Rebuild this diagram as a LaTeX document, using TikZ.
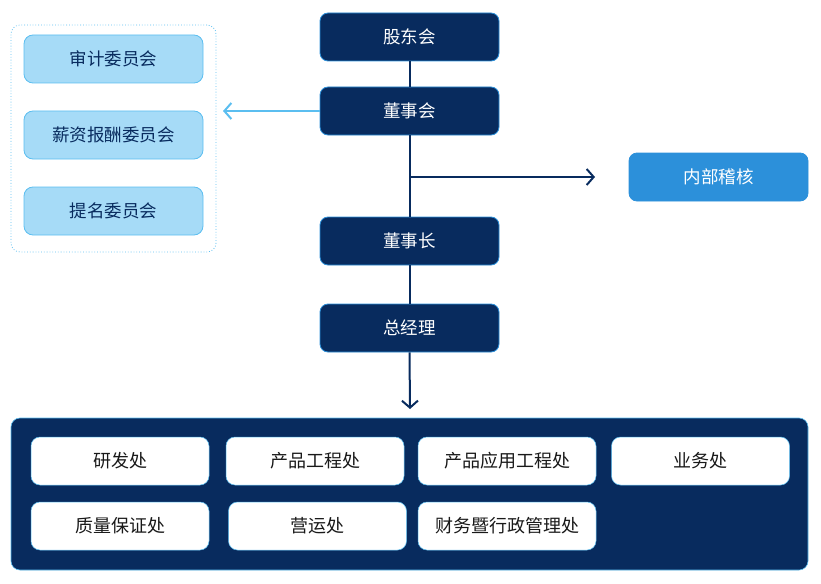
\documentclass[tikz,border=0pt]{standalone}
\usepackage{fontspec}
\setmainfont{Noto Sans CJK SC}
\usetikzlibrary{arrows.meta}
\definecolor{navy}{HTML}{082B5E}
\definecolor{lblue}{HTML}{A6DBF7}
\definecolor{lborder}{HTML}{5BBEF0}
\definecolor{mblue}{HTML}{2C90DA}
\tikzset{
  topbox/.style={draw=mblue, line width=0.8pt, fill=navy, rounded corners=8pt, minimum width=179pt, minimum height=48pt, text=white, font=\fontsize{17.5}{20}\selectfont, inner sep=0pt},
  combox/.style={draw=lborder, line width=0.8pt, fill=lblue, rounded corners=9pt, minimum width=179pt, minimum height=48pt, text=navy, font=\fontsize{17.5}{20}\selectfont, inner sep=0pt},
  depbox/.style={draw=lborder, line width=0.5pt, fill=white, rounded corners=9pt, minimum width=178pt, minimum height=48pt, text=black!90, font=\fontsize{18}{20}\selectfont, inner sep=0pt},
  conn/.style={draw=navy, line width=2pt},
  tip/.style={-{Straight Barb[length=7pt,width=16pt,line width=2pt]}},
}
\begin{document}
\begin{tikzpicture}[x=1pt,y=-1pt]
\useasboundingbox (0,0) rectangle (821,583);
% dotted group
\node[draw=lborder, dotted, line width=0.8pt, rounded corners=9pt, minimum width=205pt, minimum height=227pt, inner sep=0pt] (grp) at (113.5,138.5) {};
% bottom panel
\node[draw=lborder, line width=0.6pt, fill=navy, rounded corners=9pt, minimum width=797pt, minimum height=152pt, inner sep=0pt] (panel) at (409.5,494) {};
\coordinate (panelTop) at (410,409);
% top chain
\node[topbox] (gdh) at (409.5,37) {股东会};
\node[topbox] (dsh) at (409.5,111) {董事会};
\node[topbox] (dsz) at (409.5,241) {董事长};
\node[topbox] (zjl) at (409.5,328) {总经理};
\node[draw=mblue, line width=0.8pt, fill=mblue, rounded corners=8pt, minimum width=179pt, minimum height=48pt, text=white, font=\fontsize{17.5}{20}\selectfont, inner sep=0pt] (nbjh) at (718.5,177) {内部稽核};
% committees
\node[combox] (c1) at (113.5,59) {审计委员会};
\node[combox] (c2) at (113.5,135) {薪资报酬委员会};
\node[combox] (c3) at (113.5,211) {提名委员会};
% departments
\node[depbox] (d1) at (120,461) {研发处};
\node[depbox] (d2) at (315,461) {产品工程处};
\node[depbox] (d3) at (507,461) {产品应用工程处};
\node[depbox] (d4) at (700.5,461) {业务处};
\node[depbox] (d5) at (120,526) {质量保证处};
\node[depbox] (d6) at (317.5,526) {营运处};
\node[depbox] (d7) at (507,526) {财务暨行政管理处};
% connectors
\draw[conn] (gdh.south) -- (dsh.north);
\draw[conn] (dsh.south) -- (dsz.north);
\draw[conn] (dsz.south) -- (zjl.north);
\coordinate (br) at (410,177);
\coordinate (brEnd) at (595,177);
\draw[conn, tip] (br) -- (brEnd);
\draw[conn, tip] (zjl.south) -- (panelTop);
\coordinate (leftEnd) at (223,111);
\draw[draw=lborder, line width=2pt, -{Straight Barb[length=7pt,width=16pt,line width=2pt]}] (dsh.west) -- (leftEnd);
\end{tikzpicture}
\end{document}
